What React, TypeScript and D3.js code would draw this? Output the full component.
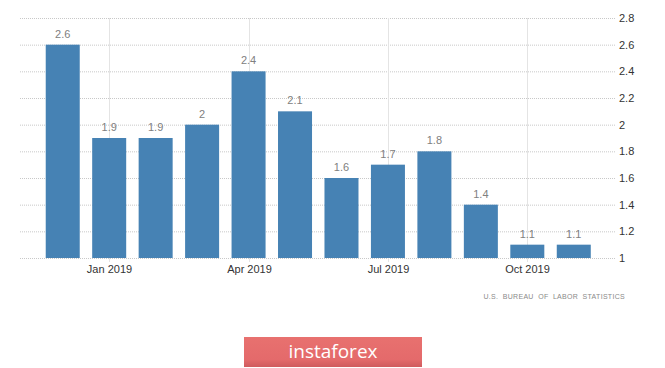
import React from "react";
import * as d3 from "d3";

const months = ["Dec 2018","Jan 2019","Feb 2019","Mar 2019","Apr 2019","May 2019","Jun 2019","Jul 2019","Aug 2019","Sep 2019","Oct 2019","Nov 2019"];
const values = [2.6, 1.9, 1.9, 2, 2.4, 2.1, 1.6, 1.7, 1.8, 1.4, 1.1, 1.1];
const valueLabels = ["2.6","1.9","1.9","2","2.4","2.1","1.6","1.7","1.8","1.4","1.1","1.1"];
const yTicks = [1, 1.2, 1.4, 1.6, 1.8, 2, 2.2, 2.4, 2.6, 2.8];
const xTickMonths = ["Jan 2019", "Apr 2019", "Jul 2019", "Oct 2019"];
const sourceText = "U.S. BUREAU OF LABOR STATISTICS";
const brandText = "instaforex";

export default function App() {
  const W = 665, H = 368;
  const x = d3.scaleBand<string>().domain(months).range([39.5, 597]).paddingInner(0.268).paddingOuter(0.134);
  const y = d3.scaleLinear().domain([1, 2.8]).range([258, 18]);
  const font = "'Liberation Sans', Arial, sans-serif";
  return (
    <svg width={W} height={H} style={{ position: "absolute", left: 0, top: 0, background: "#fff" }} fontFamily={font}>
      <defs>
        <linearGradient id="btn" x1="0" y1="0" x2="0" y2="1">
          <stop offset="0" stopColor="#e8716f" />
          <stop offset="0.75" stopColor="#e46a6b" />
          <stop offset="1" stopColor="#cf5b5e" />
        </linearGradient>
      </defs>
      {yTicks.map((t) => (
        <g key={t}>
          <line x1={20} x2={616} y1={y(t) + 0.5} y2={y(t) + 0.5} stroke="#c8c8c8" strokeDasharray="1,1" />
          <text x={619} y={y(t) + 4} fontSize={11} fill="#333">{String(t)}</text>
        </g>
      ))}
      {xTickMonths.map((m) => {
        const cx = Math.round((x(m) as number) + x.bandwidth() / 2) + 0.5;
        return (
          <g key={m}>
            <line x1={cx} x2={cx} y1={18} y2={262} stroke="#e4e4e4" />
            <text x={cx} y={273} fontSize={11} fill="#333" textAnchor="middle">{m}</text>
          </g>
        );
      })}
      {months.map((m, i) => (
        <g key={m}>
          <rect x={x(m)} y={y(values[i])} width={x.bandwidth()} height={y(1) - y(values[i])} fill="#4682b4" />
          <text x={(x(m) as number) + x.bandwidth() / 2} y={y(values[i]) - 7} fontSize={11} fill="#808080" textAnchor="middle">{valueLabels[i]}</text>
        </g>
      ))}
      <text x={625} y={299} fontSize={7} fill="#8a8a8a" textAnchor="end" letterSpacing={0.3} wordSpacing={2.2}>{sourceText}</text>
      <rect x={244} y={337} width={178} height={30} fill="url(#btn)" />
      <text x={333} y={358} fontSize={19} fill="#fff" textAnchor="middle" fontFamily="'Open Sans', 'Noto Sans', sans-serif">{brandText}</text>
    </svg>
  );
}
